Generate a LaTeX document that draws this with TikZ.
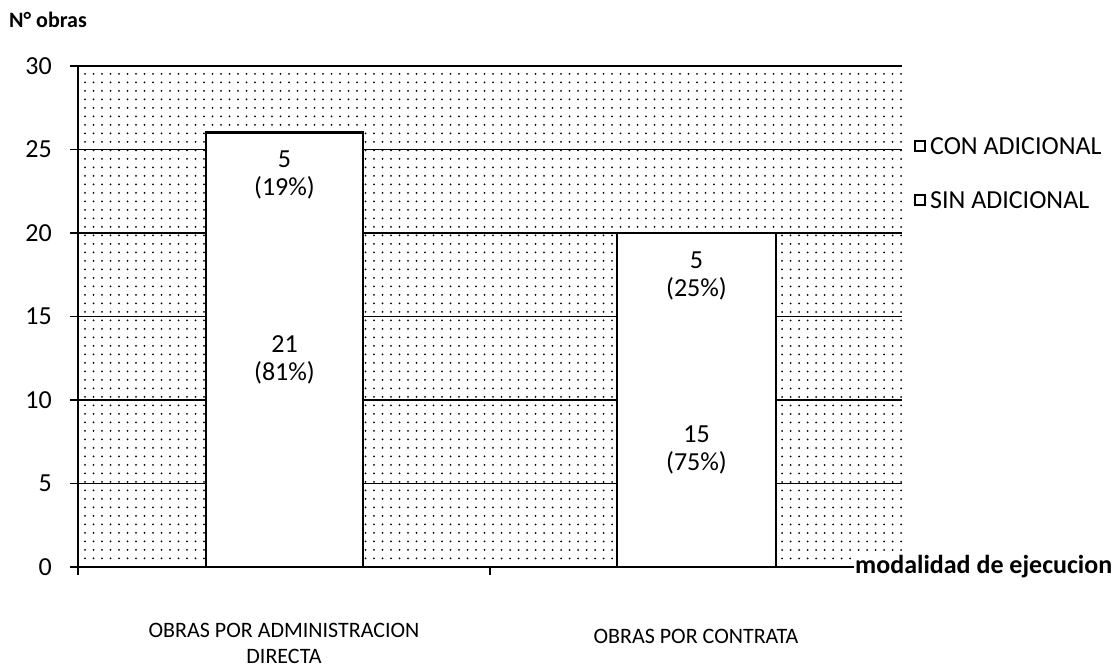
\documentclass[tikz,border=0pt]{standalone}
\usepackage{fontspec}
\setmainfont{Carlito}
\usetikzlibrary{patterns.meta}

\begin{document}
\begin{tikzpicture}[
        x=1pt, y=1pt,
        every node/.style={font=\fontsize{26}{28}\selectfont, inner sep=1pt},
        barra/.style={draw=black, line width=2.6pt, fill=white},
        rejilla/.style={draw=black, line width=1.3pt},
        etiqueta/.style={align=center},
        categoria/.style={align=center, inner sep=0pt, font=\fontsize{22}{26}\selectfont},
        cuadro/.style={draw=black, line width=1.8pt, fill=white, minimum size=10pt, inner sep=0pt},
        fondo/.style={pattern={Dots[distance=8.5pt, radius=1pt]}, pattern color=black}
        ]
        \useasboundingbox (0,0) rectangle (1112,669);

        \begin{scope}[shift={(78,102)}, y=16.7pt]
        % area punteada
        \fill[fondo] (0,0) rectangle (824,30);
        \foreach \v in {5,10,...,30}
            \draw[rejilla] (-8pt,\v) -- (824,\v);
        \draw[rejilla] (0,30) -- (0,0) -- (824,0);
        \foreach \t in {0,412,824}
            \draw[rejilla] (\t,0) -- (\t,-0.5);
        \draw[rejilla] (-8pt,0) -- (0,0);
        \foreach \v in {0,5,...,30}
            \node[anchor=east] (eje\v) at (-25pt,\v) {\v};

        % barras
        \draw[barra] (128,0) rectangle (285,26);
        \draw[barra] (539,0) rectangle (698,20);

        \node[etiqueta] (adsup) at (206.5,23.5) {5\\(19\%)};
        \node[etiqueta] (adinf) at (206.5,12.4) {21\\(81\%)};
        \node[etiqueta] (cosup) at (618.5,17.4) {5\\(25\%)};
        \node[etiqueta] (coinf) at (618.5,7.0) {15\\(75\%)};

        % textos de los ejes
        \node[anchor=west, font=\fontsize{22}{27}\selectfont\bfseries] (titulo) at (-70,32.75) {N° obras};
        \node[anchor=west, fill=white, font=\fontsize{26}{28}\selectfont\bfseries] (modalidad) at (776,0.05) {modalidad de ejecucion};
        \node[categoria] (catuno) at (206,-4.6) {OBRAS POR ADMINISTRACION\\DIRECTA};
        \node[categoria] (catdos) at (618,-4.15) {OBRAS POR CONTRATA};

        % leyenda
        \node[cuadro] (cuadrocon) at (842,25.2) {};
        \node[anchor=west, xshift=3pt] (leyendacon) at (cuadrocon.east) {CON ADICIONAL};
        \node[cuadro] (cuadrosin) at (842,21.98) {};
        \node[anchor=west, xshift=3pt] (leyendasin) at (cuadrosin.east) {SIN ADICIONAL};
        \end{scope}
    \end{tikzpicture}
\end{document}
